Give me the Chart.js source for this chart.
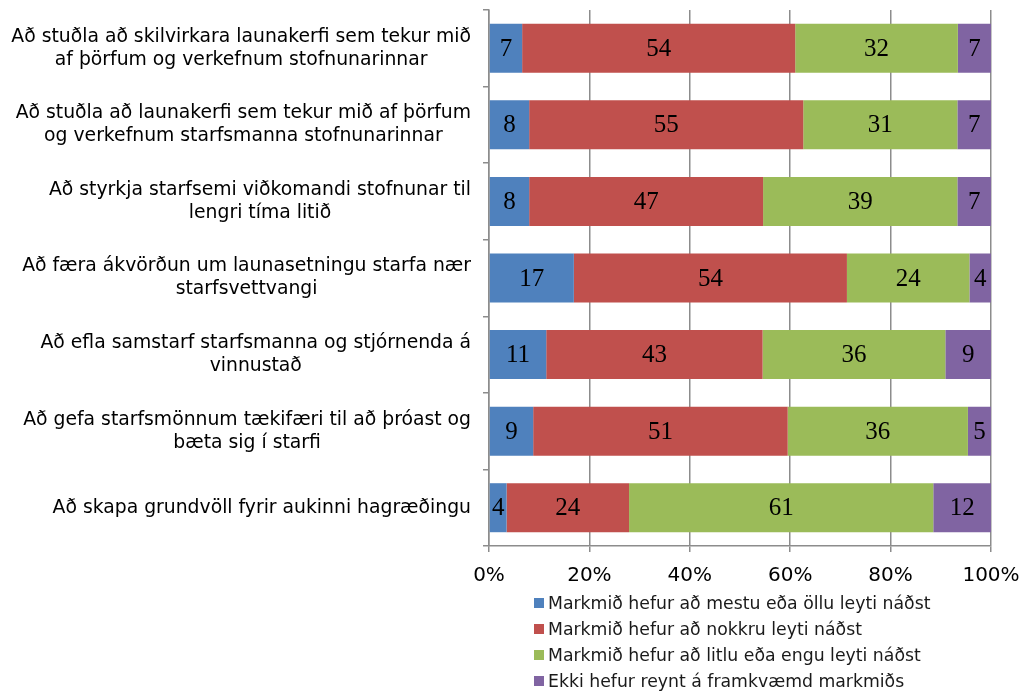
<!DOCTYPE html>
<html>
<head>
<meta charset="utf-8">
<script src="https://cdn.jsdelivr.net/npm/chart.js@4/dist/chart.umd.min.js"></script>
<style>
  html, body { margin: 0; padding: 0; background: #fff; }
  #wrap { position: relative; width: 1023px; height: 693px; }
  #legend { position: absolute; left: 534px; top: 590px; font: 17.3px "DejaVu Sans", Verdana, sans-serif; color: #1a1a1a; }
  .li { height: 26px; line-height: 26px; white-space: nowrap; display: flex; align-items: center; }
  .sw { width: 10px; height: 10px; margin-right: 4px; display: inline-block; }
</style>
</head>
<body>
<div id="wrap">
  <canvas id="c" width="1023" height="693"></canvas>
  <div id="legend"></div>
</div>
<script>
const categories = [
  ["Að stuðla að skilvirkara launakerfi sem tekur mið", "af þörfum og verkefnum stofnunarinnar"],
  ["Að stuðla að launakerfi sem tekur mið af þörfum", "og verkefnum starfsmanna stofnunarinnar"],
  ["Að styrkja starfsemi viðkomandi stofnunar til", "lengri tíma litið"],
  ["Að færa ákvörðun um launasetningu starfa nær", "starfsvettvangi"],
  ["Að efla samstarf starfsmanna og stjórnenda á", "vinnustað"],
  ["Að gefa starfsmönnum tækifæri til að þróast og", "bæta sig í starfi"],
  ["Að skapa grundvöll fyrir aukinni hagræðingu"]
];
const seriesNames = [
  "Markmið hefur að mestu eða öllu leyti náðst",
  "Markmið hefur að nokkru leyti náðst",
  "Markmið hefur að litlu eða engu leyti náðst",
  "Ekki hefur reynt á framkvæmd markmiðs"
];
const mostly   = [6.6, 8.0, 8.0, 16.9, 11.4, 8.8, 3.5];
const somewhat = [54.4, 54.6, 46.6, 54.4, 43.1, 50.7, 24.4];
const little   = [32.4, 30.7, 38.7, 24.4, 36.4, 35.9, 60.6];
const untried  = [6.6, 6.7, 6.7, 4.3, 9.1, 4.6, 11.5];
const xTicks = [0, 20, 40, 60, 80, 100];

const colors = ["#4F81BD", "#C0504D", "#9BBB59", "#8064A2"];
const seriesValues = [mostly, somewhat, little, untried];

const yLabelPlugin = {
  id: 'yLabels',
  afterDraw(chart) {
    const ctx = chart.ctx;
    const ys = chart.scales.y;
    ctx.save();
    ctx.font = '18.8px "DejaVu Sans", Verdana, sans-serif';
    ctx.fillStyle = '#000';
    ctx.textAlign = 'center';
    ctx.textBaseline = 'middle';
    const lh = 23;
    const rightX = 471;
    categories.forEach((lines, i) => {
      const cy = ys.getPixelForTick(i);
      let maxW = 0;
      lines.forEach(l => { maxW = Math.max(maxW, ctx.measureText(l).width); });
      const cx = rightX - maxW / 2;
      lines.forEach((l, k) => {
        ctx.fillText(l, cx, cy + (k - (lines.length - 1) / 2) * lh);
      });
    });
    ctx.restore();
  }
};

const dataLabelPlugin = {
  id: 'dataLabels',
  afterDatasetsDraw(chart) {
    const ctx = chart.ctx;
    ctx.save();
    ctx.font = '25px "Liberation Serif", "DejaVu Serif", serif';
    ctx.fillStyle = '#000';
    ctx.textAlign = 'center';
    ctx.textBaseline = 'middle';
    chart.data.datasets.forEach((ds, di) => {
      const meta = chart.getDatasetMeta(di);
      meta.data.forEach((el, i) => {
        const p = el.getCenterPoint();
        ctx.fillText(String(Math.round(ds.data[i])), p.x, p.y + 1);
      });
    });
    ctx.restore();
  }
};

new Chart(document.getElementById('c'), {
  type: 'bar',
  data: {
    labels: categories.map(c => c.join(' ')),
    datasets: seriesNames.map((n, i) => ({
      label: n,
      data: seriesValues[i],
      backgroundColor: colors[i],
      borderWidth: 0,
      barPercentage: 0.64,
      categoryPercentage: 1.0
    }))
  },
  options: {
    responsive: false,
    animation: false,
    indexAxis: 'y',
    layout: { padding: { top: 10, right: 32, bottom: 107, left: 0 } },
    plugins: { legend: { display: false }, tooltip: { enabled: false } },
    scales: {
      x: {
        stacked: true,
        min: 0, max: 100,
        afterBuildTicks(s) { s.ticks = xTicks.map(v => ({ value: v })); },
        afterFit(s) { s.height = 40; s.paddingLeft = 0; s.paddingRight = 0; },
        ticks: {
          callback: v => v + '%',
          font: { family: '"DejaVu Sans", Verdana, sans-serif', size: 20 },
          color: '#000',
          padding: 12,
          maxRotation: 0
        },
        grid: { color: '#8c8c8c', lineWidth: 1.5, tickLength: 6 },
        border: { color: '#8c8c8c', width: 1.5 }
      },
      y: {
        stacked: true,
        offset: true,
        afterFit(s) { s.width = 489; s.paddingTop = 0; s.paddingBottom = 0; },
        ticks: { display: false },
        grid: { offset: true, drawOnChartArea: false, tickLength: 6, color: '#8c8c8c', lineWidth: 1.5 },
        border: { color: '#8c8c8c', width: 1.5 }
      }
    }
  },
  plugins: [yLabelPlugin, dataLabelPlugin]
});

const leg = document.getElementById('legend');
seriesNames.forEach((n, i) => {
  const row = document.createElement('div');
  row.className = 'li';
  const sw = document.createElement('span');
  sw.className = 'sw';
  sw.style.background = colors[i];
  const t = document.createElement('span');
  t.textContent = n;
  row.appendChild(sw);
  row.appendChild(t);
  leg.appendChild(row);
});
</script>
</body>
</html>
